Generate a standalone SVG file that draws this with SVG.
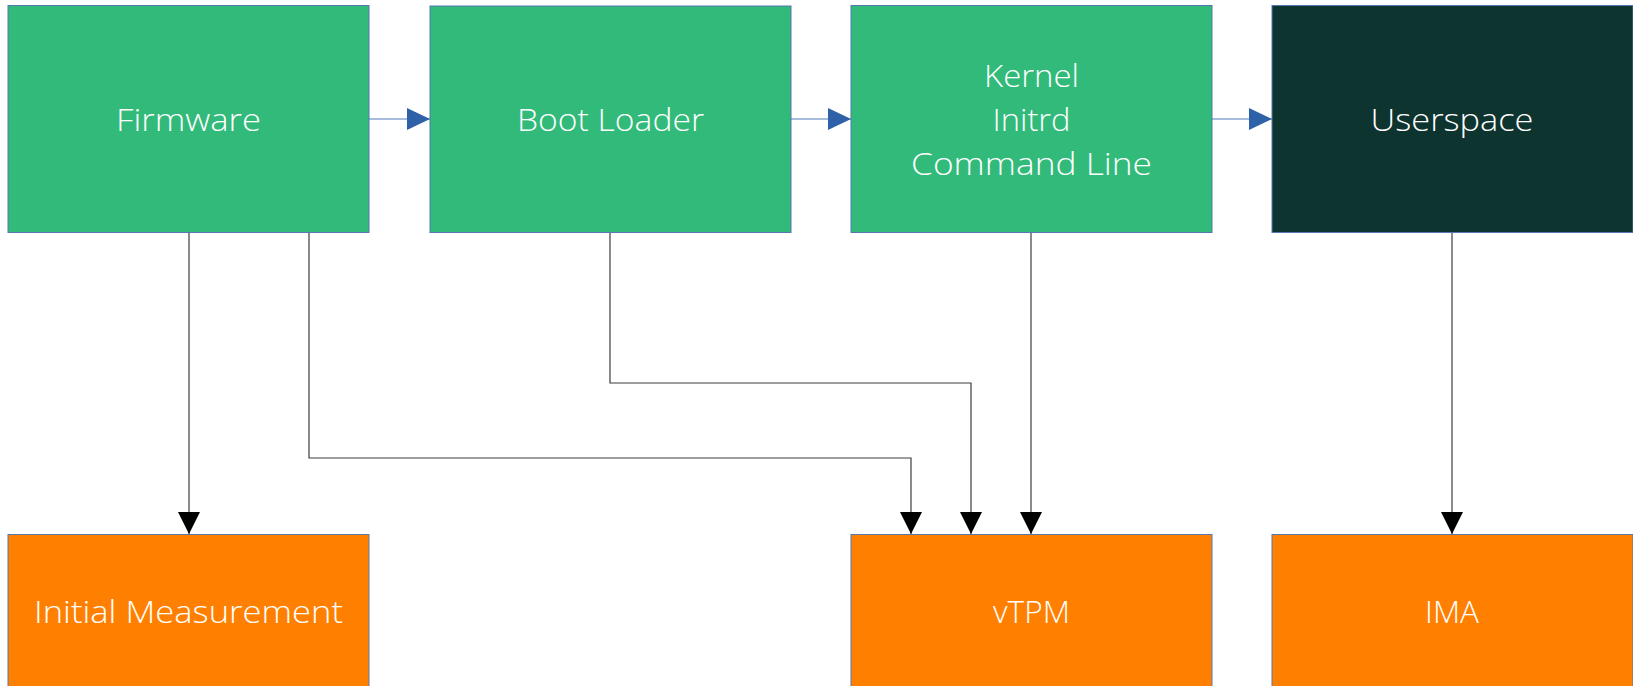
<svg xmlns="http://www.w3.org/2000/svg" width="1633" height="686" viewBox="0 0 1633 686">
  <style>
    .box { stroke: #5578b0; stroke-width: 1; }
    .green { fill: #31ba79; }
    .dark { fill: #0e342f; }
    .orange { fill: #ff8000; }
    .label { font-family: "Open Sans", Lato, "Liberation Sans", sans-serif; font-weight: 300; font-size: 32px; fill: #ffffff; text-anchor: middle; }
    .flow { stroke: #8aa4d0; stroke-width: 1.5; fill: none; }
    .link { stroke: #3d3d3d; stroke-width: 1.2; fill: none; }
  </style>
  <defs>
    <marker id="blueHead" viewBox="0 0 23 22" refX="23" refY="11" markerWidth="23" markerHeight="22" markerUnits="userSpaceOnUse" orient="auto">
      <path d="M0,0 L23,11 L0,22 Z" fill="#2f61a8"/>
    </marker>
    <marker id="blackHead" viewBox="0 0 22 22" refX="22" refY="11" markerWidth="22" markerHeight="22" markerUnits="userSpaceOnUse" orient="auto">
      <path d="M0,0 L22,11 L0,22 Z" fill="#000000"/>
    </marker>
  </defs>

  <rect width="1633" height="686" fill="#ffffff"/>

  <!-- boot chain (blue) and measurement links (black) -->
  <g id="connectors">
    <line class="flow" x1="369" y1="119" x2="430" y2="119" marker-end="url(#blueHead)"/>
    <line class="flow" x1="791" y1="119" x2="851" y2="119" marker-end="url(#blueHead)"/>
    <line class="flow" x1="1212" y1="119" x2="1272" y2="119" marker-end="url(#blueHead)"/>

    <path class="link" d="M189,232 V534" marker-end="url(#blackHead)"/>
    <path class="link" d="M309,232 V458 H911 V534" marker-end="url(#blackHead)"/>
    <path class="link" d="M610,232 V383 H971 V534" marker-end="url(#blackHead)"/>
    <path class="link" d="M1031,232 V534" marker-end="url(#blackHead)"/>
    <path class="link" d="M1452,232 V534" marker-end="url(#blackHead)"/>
  </g>

  <g id="firmware">
    <rect class="box green" x="8" y="5.5" width="361" height="227"/>
    <text class="label" x="188.5" y="131" textLength="145" lengthAdjust="spacingAndGlyphs">Firmware</text>
  </g>
  <g id="boot-loader">
    <rect class="box green" x="430" y="6" width="361" height="226.5"/>
    <text class="label" x="610.5" y="131" textLength="187" lengthAdjust="spacingAndGlyphs">Boot Loader</text>
  </g>
  <g id="kernel">
    <rect class="box green" x="851" y="5.5" width="361" height="227"/>
    <text class="label" x="1031.5" y="87" textLength="95" lengthAdjust="spacingAndGlyphs">Kernel</text>
    <text class="label" x="1031.5" y="131" textLength="78" lengthAdjust="spacingAndGlyphs">Initrd</text>
    <text class="label" x="1031.5" y="175" textLength="241" lengthAdjust="spacingAndGlyphs">Command Line</text>
  </g>
  <g id="userspace">
    <rect class="box dark" x="1272" y="5.5" width="361" height="227"/>
    <text class="label" x="1452" y="131" textLength="163" lengthAdjust="spacingAndGlyphs">Userspace</text>
  </g>
  <g id="initial-measurement">
    <rect class="box orange" x="8" y="534.5" width="361" height="152"/>
    <text class="label" x="188.5" y="622.5" textLength="309" lengthAdjust="spacingAndGlyphs">Initial Measurement</text>
  </g>
  <g id="vtpm">
    <rect class="box orange" x="851" y="534.5" width="361" height="152"/>
    <text class="label" x="1031.5" y="622.5" textLength="77" lengthAdjust="spacingAndGlyphs">vTPM</text>
  </g>
  <g id="ima">
    <rect class="box orange" x="1272" y="534.5" width="361" height="152"/>
    <text class="label" x="1452" y="622.5" textLength="54" lengthAdjust="spacingAndGlyphs">IMA</text>
  </g>
</svg>
